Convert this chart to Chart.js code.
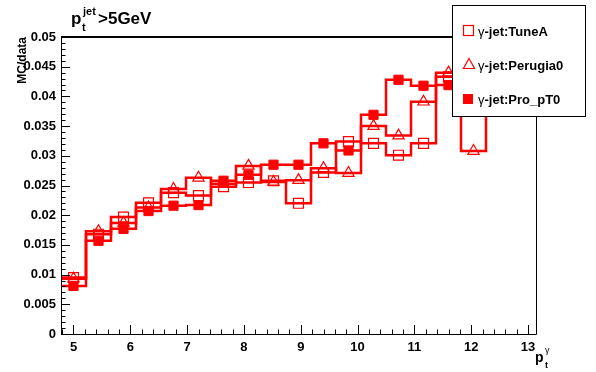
<!DOCTYPE html>
<html>
<head>
<meta charset="utf-8">
<script src="https://cdn.jsdelivr.net/npm/chart.js@4/dist/chart.umd.min.js"></script>
<style>
  html, body { margin: 0; padding: 0; background: #fff; }
  canvas { display: block; }
</style>
</head>
<body>
<canvas id="mcChart" width="596" height="372"></canvas>
<script>
// bin centres of the p_t^gamma histogram (bin width 0.44)
const binCenters = [5.00, 5.44, 5.88, 6.32, 6.76, 7.20, 7.64, 8.08, 8.52, 8.96, 9.40, 9.84, 10.28, 10.72, 11.16, 11.60, 12.04, 12.48];
const binWidth = 0.44;

// MC/data per bin (last bins sit behind the legend box)
const tuneA    = [0.0095, 0.0168, 0.0197, 0.0221, 0.0238, 0.0233, 0.0248, 0.0255, 0.0258, 0.0220, 0.0272, 0.0324, 0.0321, 0.0301, 0.0321, 0.0433, 0.0450, 0.0450];
const perugia0 = [0.0093, 0.0173, 0.0187, 0.0213, 0.0244, 0.0263, 0.0253, 0.0283, 0.0256, 0.0259, 0.0279, 0.0271, 0.0350, 0.0334, 0.0391, 0.0440, 0.0308, 0.0450];
const proPT0   = [0.0081, 0.0157, 0.0177, 0.0207, 0.0216, 0.0217, 0.0258, 0.0268, 0.0285, 0.0285, 0.0321, 0.0309, 0.0369, 0.0428, 0.0418, 0.0419, 0.0450, 0.0450];

const seriesNames = ['-jet:TuneA', '-jet:Perugia0', '-jet:Pro_pT0'];

const xTicks = [5, 6, 7, 8, 9, 10, 11, 12, 13];
const yTicks = [0, 0.005, 0.01, 0.015, 0.02, 0.025, 0.03, 0.035, 0.04, 0.045, 0.05];
const yTickLabels = ['0', '0.005', '0.01', '0.015', '0.02', '0.025', '0.03', '0.035', '0.04', '0.045', '0.05'];

const RED = '#ff0000';
const FONT = '"Liberation Sans", Arial, sans-serif';

function stepPoints(values) {
    const pts = [];
    values.forEach((v, i) => {
        pts.push({ x: binCenters[i] - binWidth / 2, y: v });
        pts.push({ x: binCenters[i] + binWidth / 2, y: v });
    });
    return pts;
}

function markerPoints(values) {
    return values.map((v, i) => ({ x: binCenters[i], y: v }));
}

function stepSet(values) {
    return {
        data: stepPoints(values),
        showLine: true,
        borderColor: RED,
        borderWidth: 2.5,
        pointRadius: 0,
        fill: false,
        order: 2
    };
}

const markerStyles = [
    { pointStyle: 'rect', pointRadius: 7, pointBackgroundColor: 'rgba(0,0,0,0)', pointBorderWidth: 1.2 },
    { pointStyle: 'triangle', pointRadius: 6.5, pointBackgroundColor: 'rgba(0,0,0,0)', pointBorderWidth: 1.2 },
    { pointStyle: 'rect', pointRadius: 6.5, pointBackgroundColor: RED, pointBorderWidth: 1 }
];

function markerSet(values, style) {
    return Object.assign({
        data: markerPoints(values),
        showLine: false,
        pointBorderColor: RED,
        order: 1
    }, style);
}

// ticks inside the frame, frame lines, titles and the legend box
const rootFrame = {
    id: 'rootFrame',
    afterDatasetsDraw(chart) {
        const { ctx, chartArea: a, scales: { x, y } } = chart;
        ctx.save();
        ctx.strokeStyle = '#000';
        ctx.lineWidth = 1;
        ctx.beginPath();
        ctx.moveTo(a.left + 0.5, a.top);
        ctx.lineTo(a.left + 0.5, a.bottom + 0.5);
        ctx.lineTo(a.right + 0.5, a.bottom + 0.5);
        ctx.lineTo(a.right + 0.5, a.top);
        ctx.stroke();
        ctx.lineWidth = 2;
        ctx.beginPath();
        ctx.moveTo(a.left, a.top);
        ctx.lineTo(a.right + 1, a.top);
        ctx.stroke();

        ctx.lineWidth = 1;
        ctx.beginPath();
        for (let i = 0; i <= 50; i++) {
            const py = Math.round(y.getPixelForValue(i * 0.001)) + 0.5;
            const len = i % 5 === 0 ? 9 : 4.5;
            ctx.moveTo(a.left, py);
            ctx.lineTo(a.left + len, py);
        }
        for (let i = 24; i <= 65; i++) {
            const v = i * 0.2;
            if (v < x.min || v > x.max) continue;
            const px = Math.round(x.getPixelForValue(v)) + 0.5;
            const len = i % 5 === 0 ? 9 : 4.5;
            ctx.moveTo(px, a.bottom);
            ctx.lineTo(px, a.bottom - len);
        }
        ctx.stroke();
        ctx.restore();
    },
    afterDraw(chart) {
        const { ctx, chartArea: a } = chart;
        ctx.save();
        ctx.fillStyle = '#000';
        ctx.textBaseline = 'alphabetic';

        // title
        ctx.font = 'bold 17px ' + FONT;
        ctx.fillText('p', 71, 24);
        ctx.font = 'bold 11px ' + FONT;
        ctx.fillText('jet', 83, 15);
        ctx.fillText('t', 82, 31);
        ctx.font = 'bold 17px ' + FONT;
        ctx.fillText('>5GeV', 98, 24);

        // y title, at the top end of the axis
        ctx.save();
        ctx.translate(26, a.top);
        ctx.rotate(-Math.PI / 2);
        ctx.textAlign = 'right';
        ctx.font = 'bold 12px ' + FONT;
        ctx.fillText('MC/data', 0, 0);
        ctx.restore();

        // x title
        ctx.font = 'bold 14px ' + FONT;
        ctx.fillText('p', 535, 362);
        ctx.font = '9px ' + FONT;
        ctx.fillText('\u03b3', 545, 353);
        ctx.font = 'bold 9px ' + FONT;
        ctx.fillText('t', 545, 368);

        // legend box
        const lx = 452.5, ly = 5.5, lw = 133, lh = 111;
        ctx.fillStyle = '#fff';
        ctx.fillRect(lx, ly, lw, lh);
        ctx.strokeStyle = '#000';
        ctx.lineWidth = 1;
        ctx.strokeRect(lx, ly, lw, lh);

        const rowsY = [31, 65, 99];
        rowsY.forEach((ry, i) => {
            ctx.strokeStyle = RED;
            ctx.fillStyle = RED;
            ctx.lineWidth = 1.2;
            if (i === 0) {
                ctx.strokeRect(463.5, ry - 5.5, 10, 10);
            } else if (i === 1) {
                ctx.beginPath();
                ctx.moveTo(469, ry - 6.5);
                ctx.lineTo(474.6, ry + 3.5);
                ctx.lineTo(463.4, ry + 3.5);
                ctx.closePath();
                ctx.stroke();
            } else {
                ctx.fillRect(463, ry - 5, 10, 10);
            }
            ctx.fillStyle = '#000';
            ctx.font = '13px ' + FONT;
            ctx.fillText('\u03b3', 478, ry + 5);
            const gw = ctx.measureText('\u03b3').width;
            ctx.font = 'bold 13px ' + FONT;
            ctx.fillText(seriesNames[i], 478 + gw, ry + 5);
        });
        ctx.restore();
    }
};

const datasets = [
    markerSet(tuneA, markerStyles[0]),
    markerSet(perugia0, markerStyles[1]),
    markerSet(proPT0, markerStyles[2]),
    stepSet(tuneA),
    stepSet(perugia0),
    stepSet(proPT0)
];

new Chart(document.getElementById('mcChart'), {
    type: 'scatter',
    data: { datasets },
    options: {
        responsive: false,
        animation: false,
        events: [],
        layout: { padding: { left: 0, right: 60, top: 37, bottom: 0 } },
        plugins: { legend: { display: false }, tooltip: { enabled: false } },
        scales: {
            x: {
                type: 'linear',
                min: 4.78,
                max: 13.14,
                grid: { display: false, drawTicks: false },
                border: { display: false },
                ticks: {
                    color: '#000',
                    font: { family: FONT, size: 13, weight: 'bold' },
                    padding: 6,
                    autoSkip: false,
                    maxRotation: 0,
                    callback: v => String(v)
                },
                afterBuildTicks: s => { s.ticks = xTicks.map(v => ({ value: v })); },
                afterFit: s => { s.height = 38; }
            },
            y: {
                min: 0,
                max: 0.05,
                grid: { display: false, drawTicks: false },
                border: { display: false },
                ticks: {
                    color: '#000',
                    font: { family: FONT, size: 13, weight: 'bold' },
                    padding: 5,
                    autoSkip: false,
                    callback: (v, i) => yTickLabels[i]
                },
                afterBuildTicks: s => { s.ticks = yTicks.map(v => ({ value: v })); },
                afterFit: s => { s.width = 61; }
            }
        }
    },
    plugins: [rootFrame]
});
</script>
</body>
</html>
